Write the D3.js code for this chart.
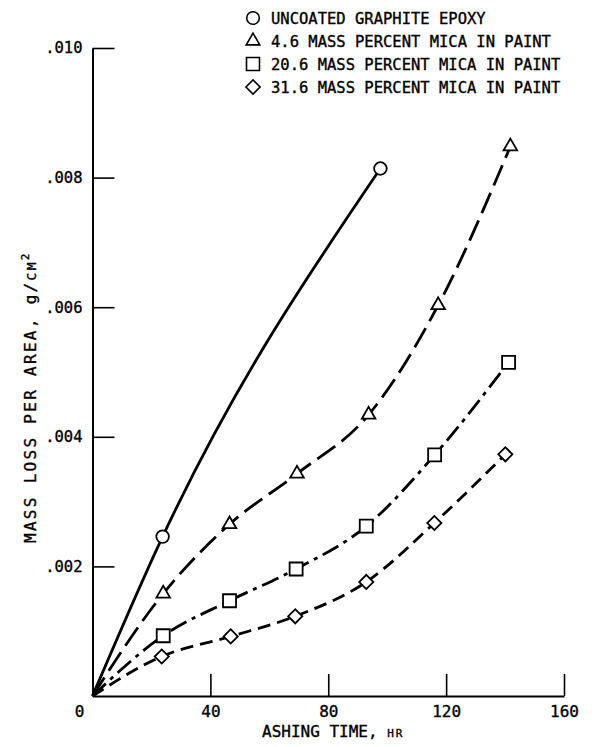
<!DOCTYPE html>
<html>
<head>
<meta charset="utf-8">
<script src="https://cdn.jsdelivr.net/npm/d3@7"></script>
<style>
  html, body { margin: 0; padding: 0; background: #fff; }
  svg { display: block; }
  text { font-family: "DejaVu Sans Mono", monospace; fill: #000; stroke: #000; stroke-width: 0.35px; }
</style>
</head>
<body>
<svg id="chart" width="596" height="747"></svg>
<script>
// Series labels
const seriesNames = [
  "UNCOATED GRAPHITE EPOXY",
  "4.6 MASS PERCENT MICA IN PAINT",
  "20.6 MASS PERCENT MICA IN PAINT",
  "31.6 MASS PERCENT MICA IN PAINT"
];

// Ashing time, hr
const timeUncoated = [0, 23.8, 97.7];
const timeMica46   = [0, 24.0, 46.5, 69.4, 93.7, 117.3, 141.8];
const timeMica206  = [0, 24.0, 46.5, 69.1, 92.9, 116.1, 141.2];
const timeMica316  = [0, 23.5, 46.9, 68.8, 92.9, 116.0, 140.1];

// Mass loss per area, g/cm^2
const lossUncoated = [0, 0.00246, 0.00814];
const lossMica46   = [0, 0.00158, 0.00265, 0.00343, 0.00434, 0.00603, 0.00848];
const lossMica206  = [0, 0.00093, 0.00147, 0.00196, 0.00262, 0.00372, 0.00515];
const lossMica316  = [0, 0.00061, 0.00092, 0.00123, 0.00176, 0.00267, 0.00373];

// Axis ticks
const xTicks = [0, 40, 80, 120, 160];
const yTicks = [0.002, 0.004, 0.006, 0.008, 0.010];

const svg = d3.select("#chart");

const x = d3.scaleLinear().domain([0, 160]).range([92.5, 564]);
const y = d3.scaleLinear().domain([0, 0.010]).range([696, 48]);

const series = [
  { name: seriesNames[0], t: timeUncoated, v: lossUncoated, marker: "circle",   dash: null },
  { name: seriesNames[1], t: timeMica46,   v: lossMica46,   marker: "triangle", dash: "22 8" },
  { name: seriesNames[2], t: timeMica206,  v: lossMica206,  marker: "square",   dash: "18 6 4 6" },
  { name: seriesNames[3], t: timeMica316,  v: lossMica316,  marker: "diamond",  dash: "13 7" }
];

function markerPath(kind) {
  if (kind === "circle")   return d3.symbol(d3.symbolCircle, 125)();
  if (kind === "triangle") return d3.symbol(d3.symbolTriangle, 80)();
  if (kind === "square")   return d3.symbol(d3.symbolSquare, 169)();
  return d3.symbol(d3.symbolSquare, 100)();
}
function markerRotate(kind) { return kind === "diamond" ? " rotate(45)" : ""; }

// Axes
const xAxis = svg.append("g")
  .attr("transform", `translate(0,${y(0)})`)
  .call(d3.axisBottom(x).tickValues(xTicks).tickSizeInner(-22).tickSizeOuter(0)
        .tickPadding(10).tickFormat(d3.format("d")));
xAxis.select(".domain").attr("stroke-width", 2);
xAxis.selectAll(".tick line").attr("stroke-width", 1.6);
xAxis.selectAll(".tick text").attr("font-size", 16).attr("y", 10)
  .attr("font-family", "DejaVu Sans Mono");
xAxis.selectAll(".tick").filter(d => d === 0).select("text").attr("x", -13.5);
xAxis.selectAll(".tick").filter(d => d === 0).select("line").remove();

const yAxis = svg.append("g")
  .attr("transform", `translate(${x(0)},0)`)
  .call(d3.axisLeft(y).tickValues(yTicks).tickSizeInner(-22).tickSizeOuter(0)
        .tickPadding(10).tickFormat(d => d3.format(".3f")(d).replace(/^0/, "")));
yAxis.select(".domain").attr("stroke-width", 2);
yAxis.selectAll(".tick line").attr("stroke-width", 1.6);
yAxis.selectAll(".tick text").attr("font-size", 15.5)
  .attr("font-family", "DejaVu Sans Mono");
svg.selectAll(".domain").attr("stroke", "#000");

// Curves
const line = d3.line()
  .x(d => x(d[0]))
  .y(d => y(d[1]))
  .curve(d3.curveMonotoneX);

series.forEach(s => {
  const pts = s.t.map((t, i) => [t, s.v[i]]);
  svg.append("path")
    .datum(pts)
    .attr("d", line)
    .attr("fill", "none")
    .attr("stroke", "#000")
    .attr("stroke-width", 2.8)
    .attr("stroke-dasharray", s.dash);
});

// Markers (origin point carries no marker)
series.forEach(s => {
  const pts = s.t.map((t, i) => [t, s.v[i]]).slice(1);
  svg.append("g").selectAll("path")
    .data(pts)
    .join("path")
    .attr("transform", d => `translate(${x(d[0])},${y(d[1])})` + markerRotate(s.marker))
    .attr("d", markerPath(s.marker))
    .attr("fill", "#fff")
    .attr("stroke", "#000")
    .attr("stroke-width", 1.8);
});

// Legend
const legend = svg.append("g");
const legendY = [18, 41, 64, 87];
series.forEach((s, i) => {
  legend.append("path")
    .attr("transform", `translate(253,${legendY[i]})` + markerRotate(s.marker))
    .attr("d", markerPath(s.marker))
    .attr("fill", "#fff")
    .attr("stroke", "#000")
    .attr("stroke-width", 1.6);
  legend.append("text")
    .attr("x", 271)
    .attr("y", legendY[i])
    .attr("dy", "0.36em")
    .attr("font-size", 15.5)
    .text(s.name);
});

// Axis titles
const xTitle = svg.append("text")
  .attr("x", 262)
  .attr("y", 737)
  .attr("font-size", 16);
xTitle.append("tspan").text("ASHING TIME, ");
xTitle.append("tspan").attr("font-size", 11).attr("letter-spacing", 2).text("HR");

const yTitle = svg.append("text")
  .attr("transform", "translate(36,543) rotate(-90)")
  .attr("font-size", 16)
  .attr("letter-spacing", 2.3);
yTitle.append("tspan").text("MASS LOSS PER AREA, g/");
yTitle.append("tspan").attr("font-size", 13).text("CM");
yTitle.append("tspan").attr("font-size", 11).attr("dy", -7).text("2");
</script>
</body>
</html>
